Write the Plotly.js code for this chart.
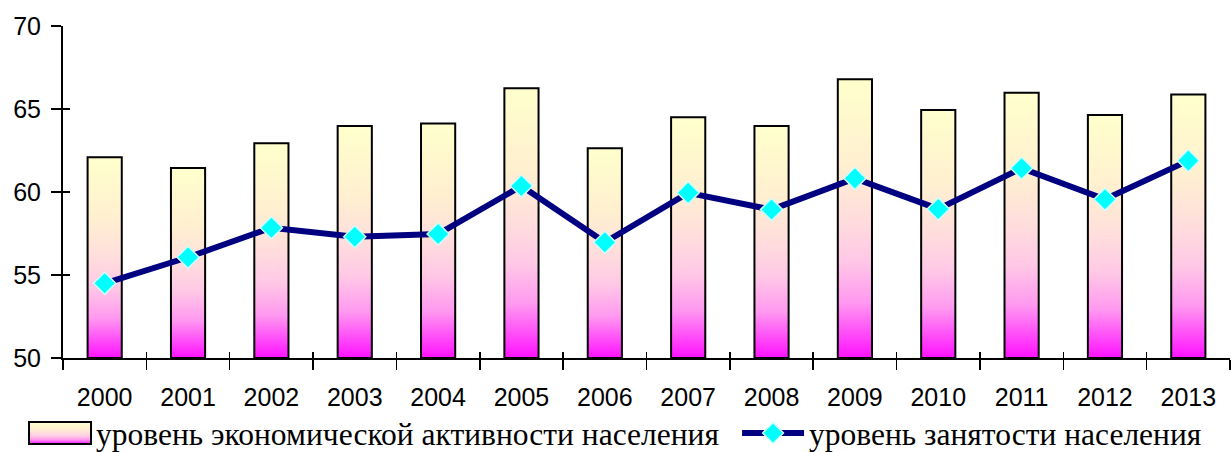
<!DOCTYPE html>
<html>
<head>
<meta charset="utf-8">
<script src="https://cdn.plot.ly/plotly-3.0.1.min.js"></script>
<style>
  html, body { margin: 0; padding: 0; background: #ffffff; }
  #chart { width: 1231px; height: 452px; }
</style>
</head>
<body>
<div id="chart"></div>
<script>
// ---- data ----
const years = ["2000","2001","2002","2003","2004","2005","2006","2007","2008","2009","2010","2011","2012","2013"];
const activityLevel = [62.1, 61.45, 62.93, 63.98, 64.12, 66.25, 62.63, 64.5, 63.98, 66.79, 64.94, 65.98, 64.64, 65.88];
const employmentLevel = [54.5, 56.07, 57.85, 57.3, 57.47, 60.36, 56.97, 59.95, 58.94, 60.82, 58.98, 61.43, 59.56, 61.89];
const seriesNames = ["уровень экономической активности населения", "уровень занятости населения"];
const yTicks = [50, 55, 60, 65, 70];

const boundaries = years.map((_, i) => i - 0.5).concat([years.length - 0.5]);

const traces = [
  {
    type: "bar",
    name: seriesNames[0],
    legend: "legend",
    x: years,
    y: activityLevel.map(v => v - yTicks[0]),
    base: yTicks[0],
    customdata: activityLevel,
    hovertemplate: "%{x}: %{customdata}<extra></extra>",
    marker: { color: "#FFB3E6", line: { color: "#000000", width: 2 } }
  },
  {
    type: "scatter",
    mode: "lines+markers",
    name: seriesNames[1],
    legend: "legend2",
    x: years,
    y: employmentLevel,
    line: { color: "#000080", width: 6 },
    marker: { symbol: "diamond", size: 17, color: "#00FFFF", line: { color: "#CCFFFF", width: 1.5 } }
  },
  // helper trace for the inner half of the crossing tick marks
  {
    type: "scatter", mode: "lines", x: [], y: [], xaxis: "x2", yaxis: "y2",
    showlegend: false, hoverinfo: "skip"
  }
];

const tickFont = { family: "Arial, 'Liberation Sans', sans-serif", size: 25, color: "#000000" };
const legendFont = { family: "'Times New Roman', 'Liberation Serif', serif", size: 31.5, color: "#000000" };

const layout = {
  width: 1231,
  height: 452,
  margin: { l: 63, r: 1, t: 26, b: 94, autoexpand: false },
  paper_bgcolor: "#ffffff",
  plot_bgcolor: "#ffffff",
  bargap: 0.59,
  showlegend: true,
  xaxis: {
    type: "category",
    range: [-0.5, years.length - 0.5],
    showline: true, linecolor: "#000000", linewidth: 2,
    ticks: "outside", tickson: "boundaries", ticklen: 10, tickwidth: 1.5, tickcolor: "#000000",
    ticklabelstandoff: 16,
    showgrid: false, zeroline: false,
    tickfont: tickFont,
    automargin: false,
    fixedrange: true
  },
  yaxis: {
    range: [yTicks[0], yTicks[yTicks.length - 1]],
    tickvals: yTicks,
    showline: true, linecolor: "#000000", linewidth: 2,
    ticks: "outside", ticklen: 10, tickwidth: 2, tickcolor: "#000000",
    ticklabelstandoff: 5,
    showgrid: false, zeroline: false,
    tickfont: tickFont,
    automargin: false,
    fixedrange: true
  },
  xaxis2: {
    overlaying: "x",
    anchor: "y2",
    side: "bottom",
    range: [-0.5, years.length - 0.5],
    tickvals: boundaries,
    ticks: "inside", ticklen: 6, tickwidth: 1.5, tickcolor: "#000000",
    showticklabels: false, showline: false, showgrid: false, zeroline: false,
    fixedrange: true
  },
  yaxis2: {
    overlaying: "y",
    anchor: "x2",
    side: "left",
    range: [yTicks[0], yTicks[yTicks.length - 1]],
    tickvals: yTicks,
    ticks: "inside", ticklen: 7, tickwidth: 2, tickcolor: "#000000",
    showticklabels: false, showline: false, showgrid: false, zeroline: false,
    fixedrange: true
  },
  legend: {
    orientation: "h",
    x: -0.0334, xanchor: "left",
    y: -0.226, yanchor: "middle",
    itemwidth: 62,
    font: legendFont,
    bgcolor: "rgba(0,0,0,0)"
  },
  legend2: {
    orientation: "h",
    x: 0.5776, xanchor: "left",
    y: -0.226, yanchor: "middle",
    itemwidth: 62,
    font: legendFont,
    bgcolor: "rgba(0,0,0,0)"
  }
};

function applyGradient(gd) {
  const svg = gd.querySelector(".main-svg");
  if (!svg) return;
  const ns = "http://www.w3.org/2000/svg";
  let defs = svg.querySelector("defs");
  if (!defs) { defs = document.createElementNS(ns, "defs"); svg.insertBefore(defs, svg.firstChild); }
  if (!svg.querySelector("#barGrad")) {
    const grad = document.createElementNS(ns, "linearGradient");
    grad.setAttribute("id", "barGrad");
    grad.setAttribute("x1", "0"); grad.setAttribute("y1", "0");
    grad.setAttribute("x2", "0"); grad.setAttribute("y2", "1");
    const stops = [[0, "#FFFFCC"], [0.3, "#FFF0D0"], [0.5, "#FFDDDD"], [0.65, "#FFC8E6"], [0.8, "#FF99F0"], [1, "#FF11FF"]];
    stops.forEach(s => {
      const st = document.createElementNS(ns, "stop");
      st.setAttribute("offset", s[0]);
      st.setAttribute("stop-color", s[1]);
      grad.appendChild(st);
    });
    defs.appendChild(grad);
  }
  svg.querySelectorAll(".barlayer .point path").forEach(p => {
    p.style.fill = "url(#barGrad)";
    p.style.fillOpacity = 1;
  });
  const barLegend = gd.querySelector(".legend .traces");
  if (barLegend) {
    barLegend.querySelectorAll(".legendpoints path").forEach(p => {
      p.setAttribute("d", "M31,11H-31V-11H31Z");
      p.style.fill = "url(#barGrad)";
      p.style.fillOpacity = 1;
      p.style.stroke = "#000000";
      p.style.strokeWidth = "2px";
    });
  }
}

const gd = document.getElementById("chart");
Plotly.newPlot(gd, traces, layout, { displayModeBar: false, staticPlot: true }).then(() => {
  applyGradient(gd);
  gd.on && gd.on("plotly_afterplot", () => applyGradient(gd));
});
</script>
</body>
</html>
